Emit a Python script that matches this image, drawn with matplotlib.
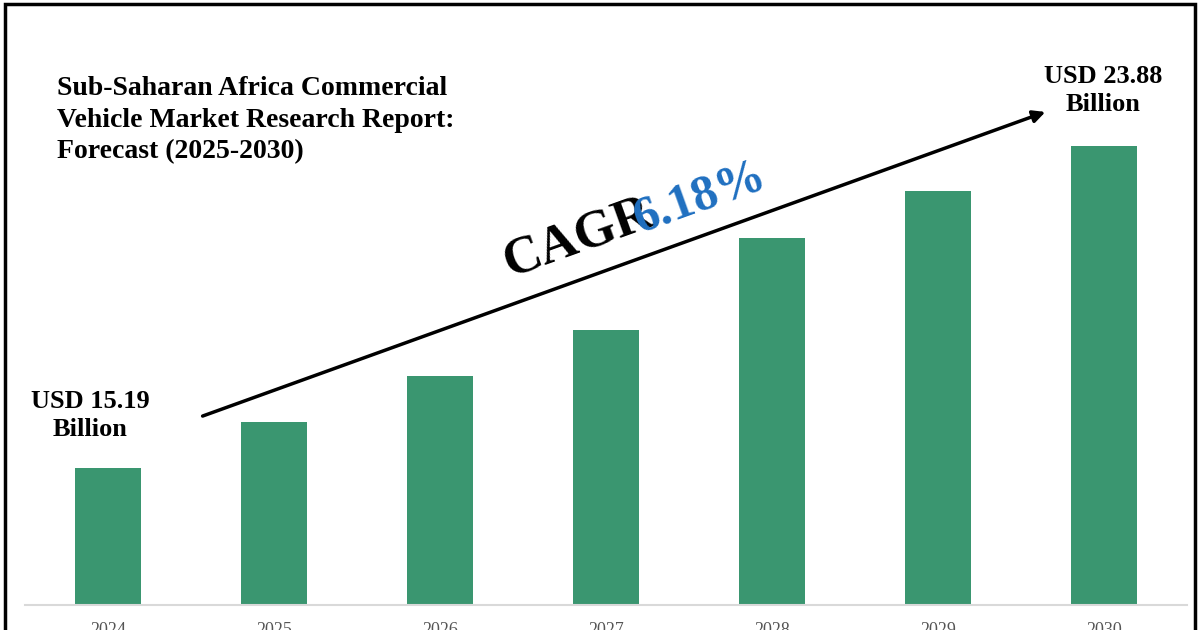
import matplotlib
matplotlib.use("Agg")
import matplotlib.pyplot as plt
from matplotlib.patches import Rectangle

years = ["2024", "2025", "2026", "2027", "2028", "2029", "2030"]
values = [15.19, 16.43, 17.67, 18.91, 21.40, 22.66, 23.88]
title = "Sub-Saharan Africa Commercial\nVehicle Market Research Report:\nForecast (2025-2030)"
start_label = "USD 15.19\nBillion"
end_label = "USD 23.88\nBillion"

W, H = 1200, 630
fig = plt.figure(figsize=(W/100, H/100), dpi=100)
plt.rcParams["font.family"] = "Liberation Serif"

def fx(px): return px / W
def fy(py): return 1 - py / H

ax = fig.add_axes([fx(25), fy(605), fx(1187) - fx(25), fy(40) - fy(605)])
ax.bar(range(len(years)), values, width=0.4, color="#3a9670")
ax.set_xlim(-0.5, 6.5)
ax.set_ylim(11.49, 26.74)
for s in ["top", "right", "left"]:
    ax.spines[s].set_visible(False)
ax.spines["bottom"].set_color("#d9d9d9")
ax.spines["bottom"].set_linewidth(1.5)
ax.set_yticks([])
ax.set_xticks(range(len(years)))
ax.set_xticklabels(years, fontsize=13, color="#555555")
ax.tick_params(axis="x", length=0, pad=12)

fig.patches.append(Rectangle((fx(5), fy(640)), fx(1195) - fx(5), fy(4) - fy(640),
                             transform=fig.transFigure, fill=False, edgecolor="black", linewidth=2.5))

fig.text(fx(57), fy(76), title, fontsize=20, fontweight="bold", va="top", ha="left", linespacing=1.35)
fig.text(fx(90), fy(390), start_label, fontsize=19, fontweight="bold", ha="center", va="top", linespacing=1.3)
fig.text(fx(1103), fy(65), end_label, fontsize=19, fontweight="bold", ha="center", va="top", linespacing=1.3)

fig.add_artist(matplotlib.patches.FancyArrowPatch((fx(200), fy(417)), (fx(1048), fy(111)),
               transform=fig.transFigure, arrowstyle="-|>", mutation_scale=18, color="black", linewidth=2.5))

fig.text(fx(578), fy(238), "CAGR", fontsize=38, fontweight="bold", rotation=19.8,
         ha="center", va="center", rotation_mode="anchor")
fig.text(fx(700), fy(198), "6.18%", fontsize=36, fontweight="bold", color="#1f6fc0", rotation=19.8,
         ha="center", va="center", rotation_mode="anchor")

fig.savefig("out.png", dpi=100)
